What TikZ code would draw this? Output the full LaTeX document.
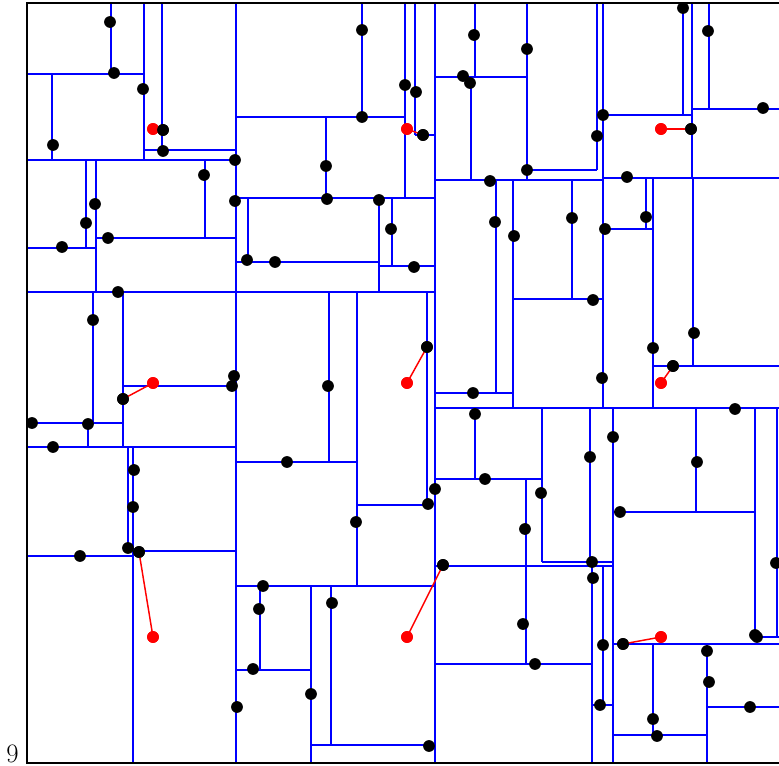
\documentclass[tikz,border=0pt]{standalone}
\begin{document}
\begin{tikzpicture}[x=0.75pt,y=-0.75pt,
  part/.style={blue, line width=1.9pt},
  frame/.style={black, line width=2pt},
  pt/.style={circle, fill=black, inner sep=0pt, minimum size=8.8pt},
  qpt/.style={circle, fill=red, inner sep=0pt, minimum size=8.8pt},
  nnline/.style={red, line width=1.1pt}]
\useasboundingbox (0,0) rectangle (779,766);
\begin{scope}
\clip (0,0) rectangle (779,766);
% vertical partition lines x/y1/y2
\foreach \x/\a/\b in {111/3/74, 144/3/160, 162/3/150, 236/3/763, 52/74/160, 86/160/248, 96/160/292, 205/160/238, 248/198/262, 362/3/117, 405/3/198, 415/3/135, 435/3/763, 326/117/198, 379/198/292, 392/198/266, 93/292/423, 123/292/447, 88/423/447, 128/447/548, 133/447/763, 329/292/462, 357/292/586, 427/292/505, 260/586/670, 311/586/763, 331/586/745, 475/3/77, 471/77/180, 527/3/180, 597/3/170, 603/3/408, 683/3/115, 692/3/178, 709/3/109, 496/180/393, 513/180/408, 572/180/299, 646/178/229, 653/178/408, 693/178/366, 475/408/479, 542/408/562, 526/479/664, 590/408/562, 592/566/763, 603/566/705, 613/408/763, 696/408/512, 755/408/637, 777/408/637, 653/644/735, 707/644/763}
  \draw[part] (\x,\a) -- (\x,\b);
% horizontal partition lines y/x1/x2
\foreach \y/\a/\b in {74/27/144, 150/144/236, 160/27/236, 117/236/405, 248/27/96, 238/96/236, 198/236/435, 135/415/435, 262/236/379, 266/379/435, 292/27/435, 423/27/123, 386/123/236, 447/27/236, 462/236/357, 505/357/427, 556/27/133, 551/133/236, 586/236/435, 670/236/311, 745/311/435, 77/435/527, 170/527/597, 180/435/603, 178/603/779, 115/603/692, 109/692/779, 229/603/653, 299/513/603, 366/653/779, 393/435/513, 408/435/779, 479/435/542, 566/435/612, 562/542/612, 664/435/592, 705/592/613, 512/613/755, 637/755/779, 644/613/779, 735/613/707, 707/707/779}
  \draw[part] (\a,\y) -- (\b,\y);
% frame
\draw[frame] (779,3) -- (27,3) -- (27,763) -- (779,763);
\end{scope}
% query points (red)
\node[qpt] (q1) at (153,129) {};
\node[qpt] (q2) at (407,129) {};
\node[qpt] (q3) at (661,129) {};
\node[qpt] (q4) at (153,383) {};
\node[qpt] (q5) at (407,383) {};
\node[qpt] (q6) at (661,383) {};
\node[qpt] (q7) at (153,637) {};
\node[qpt] (q8) at (407,637) {};
\node[qpt] (q9) at (661,637) {};
% nearest neighbours
\node[pt] (n1) at (163,130) {};
\node[pt] (n2) at (423,135) {};
\node[pt] (n3) at (691,129) {};
\node[pt] (n4) at (123,399) {};
\node[pt] (n5) at (427,347) {};
\node[pt] (n6) at (673,366) {};
\node[pt] (n7) at (139,552) {};
\node[pt] (n8) at (443,565) {};
\node[pt] (n9) at (623,644) {};
\foreach \i in {1,...,9} \draw[nnline] (q\i.center) -- (n\i.center);
\foreach \i in {1,...,9} \node[qpt] at (q\i) {};
\foreach \i in {1,...,9} \node[pt] at (n\i) {};
% other data points
\foreach \px/\py [count=\k] in {110/22,114/73,143/89,163/151,53/145,235/160,204/175,235/201,95/204,86/223,62/247,108/238,247/260,275/262,
362/30,405/85,416/92,362/117,326/166,327/199,379/200,391/229,414/267,
474/35,463/76,470/83,527/49,527/170,490/181,495/222,514/236,572/218,605/229,646/217,627/177,603/115,597/136,683/8,708/31,763/108,
593/300,694/333,653/348,602/378,735/409,613/437,590/457,697/462,541/493,620/512,
118/292,93/320,234/376,232/386,32/423,88/424,53/447,134/470,133/507,80/556,128/548,
328/386,473/393,475/414,287/462,485/479,435/489,428/504,356/522,
263/586,259/609,253/669,237/707,332/603,311/694,429/746,525/529,523/624,535/664,592/562,593/578,603/645,600/705,653/719,657/736,707/651,709/682,750/707,755/635,757/637,776/563}
  \node[pt] (p\k) at (\px,\py) {};
% label
\node[anchor=base, font=\fontsize{20}{24}\selectfont, inner sep=0pt] (lbl) at (12.5,762) {9};
\end{tikzpicture}
\end{document}
